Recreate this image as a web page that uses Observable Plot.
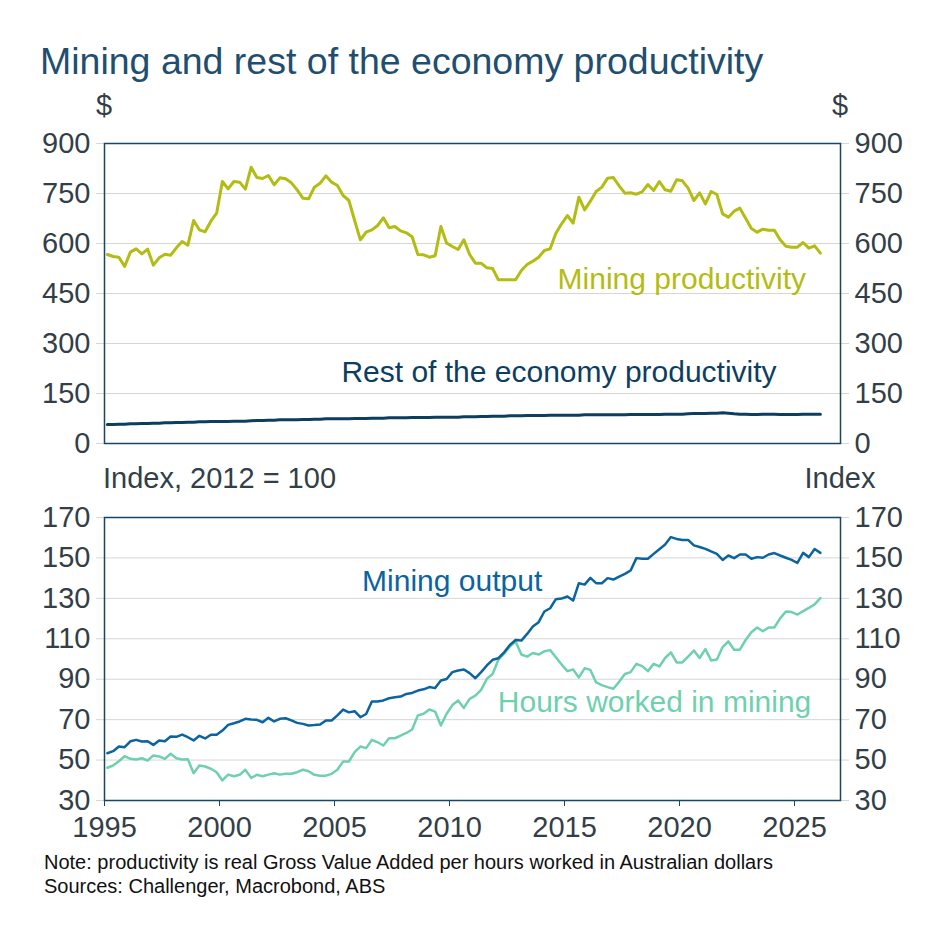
<!DOCTYPE html>
<html><head><meta charset="utf-8">
<script src="https://cdn.jsdelivr.net/npm/d3@7"></script>
<script src="https://cdn.jsdelivr.net/npm/@observablehq/plot@0.6"></script>
<style>
body{margin:0;background:#fff;}
#c{position:relative;width:943px;height:943px;font-family:"Liberation Sans",Arial,sans-serif;overflow:hidden;background:#fff;}
.t{position:absolute;white-space:nowrap;line-height:1;}
#c svg{position:absolute;left:0;overflow:visible;}
</style></head><body><div id="c"></div>
<script>
// Quarterly series, first quarter = 1995 Q1
const firstYear = 1995;

const miningProductivity = [
567,561,559,531, 574,584,569,583, 535,557,568,565, 587,606,595,669,
641,635,667,691, 786,764,786,784, 763,829,798,795, 804,776,797,794,
782,761,736,734, 769,781,803,784, 774,744,729,669, 611,634,641,654,
677,647,651,638, 632,620,567,566, 559,563,651,601, 591,582,611,567,
541,541,527,525, 491,491,491,491, 519,537,547,559, 579,584,631,659,
684,661,739,701, 727,756,769,796, 798,773,751,752, 748,755,777,759,
786,761,757,791, 788,766,729,752, 719,756,747,689, 679,697,706,676,
645,634,643,640, 640,611,592,589, 589,603,586,593, 571
];

const restProductivity = [
57,57,58,58, 59,59,60,60, 61,61,62,62, 63,63,64,64,
65,65,66,66, 66,66,67,67, 67,68,69,69, 70,70,71,71,
71,71,72,72, 73,73,74,74, 74,74,74,75, 75,75,76,76,
76,77,77,77, 77,78,78,78, 78,79,79,79, 79,79,80,80,
80,81,81,82, 82,82,83,83, 83,84,84,84, 84,85,85,85,
85,85,85,86, 86,86,86,86, 86,86,86,87, 87,87,87,87,
87,88,88,88, 88,89,90,90, 90,91,91,92, 91,89,88,88,
87,87,88,88, 88,87,87,87, 87,88,88,88, 88
];

const miningOutput = [
53.4,54.4,56.7,56.4, 59.3,60.0,59.2,59.3, 57.5,59.7,59.3,61.7, 61.5,62.6,61.3,59.7,
62.0,60.7,62.5,62.5, 64.6,67.4,68.2,69.1, 70.4,70.1,69.9,68.7, 70.9,69.1,70.4,70.7,
69.6,68.4,67.9,67.1, 67.3,67.6,69.6,69.6, 72.1,75.0,73.6,74.2, 71.2,72.8,79.0,79.0,
79.5,80.6,81.1,81.4, 82.7,83.2,84.4,85.0, 86.1,85.6,89.4,90.1, 93.5,94.3,94.8,93.0,
90.5,93.5,96.8,99.6, 100.4,103.3,106.9,109.4, 109.1,112.4,116.1,118.2, 123.5,125.1,129.6,129.9,
130.9,128.9,137.5,136.8, 140.1,137.5,137.5,140.0, 139.3,140.8,142.1,143.8, 149.9,149.6,149.6,152.0,
154.3,156.6,160.3,159.4, 158.9,158.9,156.2,155.4, 154.5,153.2,152.0,149.0, 151.2,149.9,151.7,151.7,
149.6,150.4,150.1,151.7, 152.4,151.2,150.1,149.0, 147.5,152.5,150.4,154.4, 152.5
];

const hoursWorked = [
46.2,47.3,49.4,51.9, 50.6,50.3,50.9,49.8, 52.3,51.8,50.6,53.1, 50.9,50.3,50.4,43.5,
47.3,46.8,45.7,44.0, 39.9,42.8,42.0,42.7, 45.2,41.2,42.7,42.0, 42.8,43.5,42.8,43.2,
43.2,44.0,45.2,44.5, 42.7,42.2,42.3,43.2, 45.2,49.3,49.3,53.9, 56.7,55.9,60.0,58.8,
57.2,60.8,60.8,62.1, 63.4,65.1,72.1,72.9, 75.0,74.0,67.1,72.9, 77.2,79.5,75.8,80.3,
81.9,84.7,90.2,92.6, 99.6,102.6,106.2,108.7, 102.2,101.2,103.0,102.2, 103.8,104.4,100.9,97.3,
94.0,94.8,90.9,95.4, 94.6,88.4,87.1,86.1, 85.3,88.7,92.6,93.5, 97.6,96.5,94.0,97.6,
96.3,100.5,103.3,98.3, 98.3,101.2,104.2,100.5, 104.9,99.3,99.8,105.9, 108.7,104.6,104.6,109.4,
113.2,115.6,113.7,115.6, 115.6,120.1,123.5,123.2, 122.0,123.7,125.3,127.0, 130.1
];

const xTicks = [1995, 2000, 2005, 2010, 2015, 2020, 2025];
const yTicksTop = [0, 150, 300, 450, 600, 750, 900];
const yTicksBottom = [30, 50, 70, 90, 110, 130, 150, 170];

const titleText = "Mining and rest of the economy productivity";
const noteLines = [
  "Note: productivity is real Gross Value Added per hours worked in Australian dollars",
  "Sources: Challenger, Macrobond, ABS"
];
const topLabels = [
  {text: "Mining productivity", x: 2014.7, y: 492, key: "mp"},
  {text: "Rest of the economy productivity", x: 2005.3, y: 213, key: "rp"}
];
const bottomLabels = [
  {text: "Mining output", x: 2006.2, y: 138.3, key: "mo"},
  {text: "Hours worked in mining", x: 2012.1, y: 78.5, key: "hw"}
];

// ---- styling ----
const FONT = '"Liberation Sans", Arial, sans-serif';
const colors = {mp: "#b3bc12", rp: "#0d3e5f", mo: "#0b64a0", hw: "#6fd0ae"};
const navy = "#174668";
const gridColor = "#d6d6d6";
const tickText = "#333f48";

const toSeries = (arr) => arr.map((v, i) => ({x: firstYear + 0.125 + i * 0.25, v}));

function yAxes(ticks) {
  return [
    Plot.gridY(ticks, {stroke: gridColor, strokeOpacity: 1, strokeWidth: 1}),
    Plot.axisY(ticks, {anchor: "left", tickSize: 8, tickPadding: 6, stroke: gridColor, fill: tickText, fontSize: 29, label: null, tickFormat: d => String(d)}),
    Plot.axisY(ticks, {anchor: "right", tickSize: 8, tickPadding: 6, stroke: gridColor, fill: tickText, fontSize: 29, label: null, tickFormat: d => String(d)})
  ];
}

const topChart = Plot.plot({
  width: 943, height: 330,
  marginLeft: 104, marginRight: 103, marginTop: 20, marginBottom: 10,
  style: {fontFamily: FONT, fontSize: "29px", background: "transparent", overflow: "visible"},
  x: {domain: [1995, 2027], axis: null},
  y: {domain: [0, 900], axis: null},
  marks: [
    ...yAxes(yTicksTop),
    Plot.frame({stroke: navy, strokeWidth: 1.5}),
    Plot.line(toSeries(restProductivity), {x: "x", y: "v", stroke: colors.rp, strokeWidth: 3}),
    Plot.line(toSeries(miningProductivity), {x: "x", y: "v", stroke: colors.mp, strokeWidth: 3}),
    Plot.text(topLabels, {x: "x", y: "y", text: "text", fill: d => colors[d.key], textAnchor: "start", lineAnchor: "middle", fontSize: 30})
  ]
});
topChart.style.top = "123px";

const bottomChart = Plot.plot({
  width: 943, height: 353,
  marginLeft: 104, marginRight: 103, marginTop: 20, marginBottom: 50,
  style: {fontFamily: FONT, fontSize: "29px", background: "transparent", overflow: "visible"},
  x: {domain: [1995, 2027], axis: null},
  y: {domain: [30, 170], axis: null},
  marks: [
    ...yAxes(yTicksBottom),
    Plot.axisX(xTicks, {anchor: "bottom", tickSize: 6, tickPadding: 10, stroke: navy, fill: tickText, fontSize: 29, label: null, tickFormat: d => String(d)}),
    Plot.frame({stroke: navy, strokeWidth: 1.5}),
    Plot.line(toSeries(hoursWorked), {x: "x", y: "v", stroke: colors.hw, strokeWidth: 2.5}),
    Plot.line(toSeries(miningOutput), {x: "x", y: "v", stroke: colors.mo, strokeWidth: 2.5}),
    Plot.text(bottomLabels, {x: "x", y: "y", text: "text", fill: d => colors[d.key], textAnchor: "start", lineAnchor: "middle", fontSize: 30})
  ]
});
bottomChart.style.top = "497px";

const container = document.getElementById("c");
function addText(txt, {left, top, size, color, center}) {
  const d = document.createElement("div");
  d.className = "t";
  d.textContent = txt;
  d.style.fontSize = size + "px";
  d.style.color = color;
  d.style.top = top + "px";
  if (center !== undefined) { d.style.left = center + "px"; d.style.transform = "translateX(-50%)"; }
  else d.style.left = left + "px";
  container.appendChild(d);
}
addText(titleText, {left: 40, top: 43, size: 37.5, color: "#1f4e6f"});
addText("$", {center: 104, top: 91, size: 29, color: tickText});
addText("$", {center: 840, top: 91, size: 29, color: tickText});
addText("Index, 2012 = 100", {left: 103, top: 464, size: 29, color: tickText});
addText("Index", {center: 840, top: 464, size: 29, color: tickText});
addText(noteLines[0], {left: 44, top: 852, size: 20, color: "#111"});
addText(noteLines[1], {left: 44, top: 876, size: 20, color: "#111"});
container.appendChild(topChart);
container.appendChild(bottomChart);
</script></body></html>
